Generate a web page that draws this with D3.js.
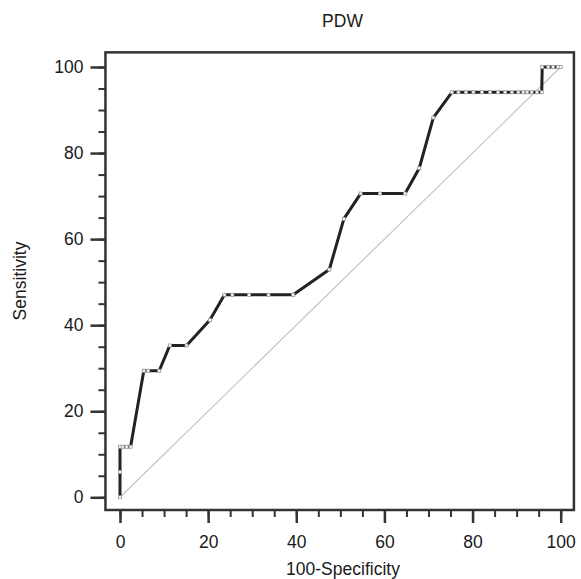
<!DOCTYPE html>
<html>
<head>
<meta charset="utf-8">
<script src="https://cdn.jsdelivr.net/npm/d3@7"></script>
<style>
  body { margin: 0; background: #fff; }
  text { font-family: Arial, "Liberation Sans", sans-serif; fill: #1a1a1a; }
</style>
</head>
<body>
<div id="chart"></div>
<script>
const width = 581;
const height = 579;

// ROC curve points
const fpr = [0, 0, 0, 0.6, 1.5, 2.4, 5.4, 6.4, 8.9, 11.3, 15.1, 20.4,
             23.7, 25.5, 29.3, 33.7, 39.3, 47.5, 50.8, 54.6, 59.0, 64.7,
             67.9, 71.1, 75.3, 76.8, 78.5, 80.2, 82.1, 84.0, 85.8, 87.4,
             88.9, 90.4, 91.5, 92.4, 93.4, 94.6, 95.7, 95.8, 97.2, 98.3,
             99.4, 100];
const tpr = [0, 5.88, 11.76, 11.76, 11.76, 11.76, 29.41, 29.41, 29.41,
             35.29, 35.29, 41.18, 47.06, 47.06, 47.06, 47.06, 47.06, 52.94,
             64.71, 70.59, 70.59, 70.59, 76.47, 88.24, 94.12, 94.12, 94.12,
             94.12, 94.12, 94.12, 94.12, 94.12, 94.12, 94.12, 94.12, 94.12,
             94.12, 94.12, 94.12, 100, 100, 100, 100, 100];
const xTicks = [0, 20, 40, 60, 80, 100];
const yTicks = [0, 20, 40, 60, 80, 100];
const minorTicks = d3.range(0, 101, 5);

const points = fpr.map((d, i) => ({ x: d, y: tpr[i] }));
const fontSize = '17.5px';

const svg = d3.select('#chart')
              .append('svg')
              .attr('width', width)
              .attr('height', height);

const xScale = d3.scaleLinear().domain([0, 100]).range([120, 560.7]);
const yScale = d3.scaleLinear().domain([0, 100]).range([497.3, 67]);

// plot frame
const frame = { left: xScale(-3.3), right: xScale(103), top: yScale(103.4), bottom: yScale(-2.95) };

// minor ticks
svg.append('g')
   .attr('transform', `translate(0,${frame.bottom})`)
   .call(d3.axisBottom(xScale).tickValues(minorTicks).tickSize(7).tickFormat(''))
   .call(g => g.select('.domain').remove())
   .selectAll('line').attr('stroke', '#333').attr('stroke-width', 2);
svg.append('g')
   .attr('transform', `translate(${frame.left},0)`)
   .call(d3.axisLeft(yScale).tickValues(minorTicks).tickSize(7).tickFormat(''))
   .call(g => g.select('.domain').remove())
   .selectAll('line').attr('stroke', '#333').attr('stroke-width', 2);

// major ticks
const xAxis = svg.append('g')
   .attr('transform', `translate(0,${frame.bottom})`)
   .call(d3.axisBottom(xScale).tickValues(xTicks).tickSize(13).tickPadding(13));
xAxis.select('.domain').remove();
xAxis.selectAll('line').attr('stroke', '#333').attr('stroke-width', 2.5);
xAxis.selectAll('text').style('font-size', fontSize).attr('fill', '#1a1a1a');

const yAxis = svg.append('g')
   .attr('transform', `translate(${frame.left},0)`)
   .call(d3.axisLeft(yScale).tickValues(yTicks).tickSize(15).tickPadding(7));
yAxis.select('.domain').remove();
yAxis.selectAll('line').attr('stroke', '#333').attr('stroke-width', 2.5);
yAxis.selectAll('text').style('font-size', fontSize).attr('fill', '#1a1a1a');

svg.append('rect')
   .attr('x', frame.left)
   .attr('y', frame.top)
   .attr('width', frame.right - frame.left)
   .attr('height', frame.bottom - frame.top)
   .attr('fill', 'none')
   .attr('stroke', '#333')
   .attr('stroke-width', 2.5);

// diagonal reference line
svg.append('line')
   .attr('x1', xScale(0)).attr('y1', yScale(0))
   .attr('x2', xScale(100)).attr('y2', yScale(100))
   .attr('stroke', '#c4c4c4')
   .attr('stroke-width', 1.2);

// ROC curve
const line = d3.line().x(d => xScale(d.x)).y(d => yScale(d.y));
svg.append('path')
   .datum(points)
   .attr('d', line)
   .attr('fill', 'none')
   .attr('stroke', '#222')
   .attr('stroke-width', 3)
   .attr('stroke-linejoin', 'round');

svg.selectAll('.pt')
   .data(points)
   .enter()
   .append('rect')
   .attr('class', 'pt')
   .attr('x', d => xScale(d.x) - 1.5)
   .attr('y', d => yScale(d.y) - 1.5)
   .attr('width', 3)
   .attr('height', 3)
   .attr('fill', '#fff')
   .attr('stroke', '#999')
   .attr('stroke-width', 0.8);

// titles
svg.append('text')
   .attr('x', 342.5).attr('y', 27)
   .attr('text-anchor', 'middle')
   .style('font-size', fontSize)
   .text('PDW');
svg.append('text')
   .attr('x', 343).attr('y', 575)
   .attr('text-anchor', 'middle')
   .style('font-size', fontSize)
   .text('100-Specificity');
svg.append('text')
   .attr('transform', 'translate(26,281) rotate(-90)')
   .attr('text-anchor', 'middle')
   .style('font-size', fontSize)
   .text('Sensitivity');
</script>
</body>
</html>
